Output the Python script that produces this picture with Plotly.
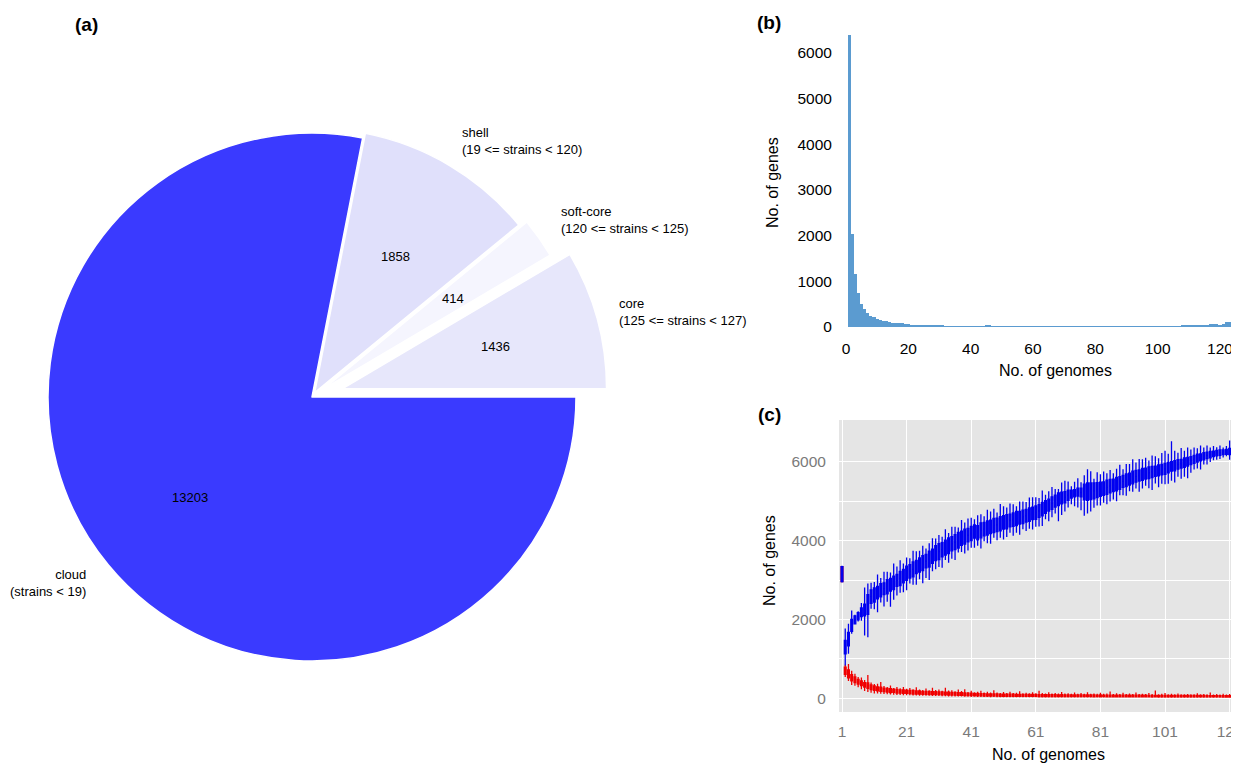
import math
import plotly.graph_objects as go

# The page body adds an 8 px margin, so the figure is sized to fill the
# remaining window and reference pixel positions are shifted by 8 px.
OFF = 8
W, H = 1239 - OFF, 763 - OFF


def px(x):
    return (x - OFF) / W


def py(y):
    return 1 - (y - OFF) / H


# ---------------- (a) pie data ----------------
pie_labels = ["cloud", "shell", "soft-core", "core"]
pie_values = [13203, 1858, 414, 1436]
pie_ranges = ["(strains &lt; 19)", "(19 &lt;= strains &lt; 120)",
              "(120 &lt;= strains &lt; 125)", "(125 &lt;= strains &lt; 127)"]
pie_colors = ["#3a3aff", "#e0e0fb", "#f5f5fe", "#e7e7fb"]
pie_pull = [0, 0.02, 0.05, 0.12]

# ---------------- (b) histogram data ----------------
hist_counts = [
    6400, 2030, 1160, 730, 510, 380, 300, 245, 225, 175,
    150, 135, 120, 100, 92, 90, 80, 75, 62, 56,
    48, 42, 38, 34, 31, 28, 25, 23, 21, 19,
    18, 17, 16, 15, 15, 14, 13, 13, 12, 12,
    11, 11, 12, 14, 20, 40, 15, 11, 10, 10,
    10, 9, 9, 9, 9, 8, 8, 9, 8, 8,
    8, 8, 7, 7, 8, 7, 7, 7, 7, 7,
    7, 7, 7, 6, 7, 7, 6, 7, 7, 6,
    7, 7, 6, 7, 7, 7, 7, 8, 7, 7,
    8, 8, 8, 9, 9, 9, 10, 10, 10, 11,
    11, 12, 12, 13, 14, 15, 16, 18, 20, 22,
    25, 28, 32, 36, 40, 46, 52, 60, 68, 45,
    55, 110, 105, 104, 106, 1330,
]
hist_genomes = list(range(1, len(hist_counts) + 1))
hist_xticks = [0, 20, 40, 60, 80, 100, 120]
hist_yticks = [0, 1000, 2000, 3000, 4000, 5000, 6000]

# ---------------- (c) box-plot data ----------------
blue_med = [
    3150, 1300, 1500, 1850, 1990, 2080, 2180, 2240, 2380, 2580,
    2620, 2680, 2740, 2780, 2830, 2880, 2930, 2990, 3040, 3100,
    3170, 3220, 3270, 3330, 3380, 3430, 3480, 3530, 3600, 3680,
    3720, 3770, 3820, 3870, 3920, 3960, 4010, 4060, 4100, 4140,
    4180, 4230, 4200, 4260, 4290, 4320, 4350, 4380, 4400, 4430,
    4460, 4480, 4510, 4530, 4560, 4580, 4600, 4630, 4660, 4690,
    4710, 4750, 4800, 4850, 4900, 4950, 5000, 5050, 5080, 5100,
    5150, 5180, 5200, 5230, 5220, 5230, 5240, 5250, 5260, 5280,
    5300, 5320, 5350, 5380, 5400, 5430, 5460, 5500, 5530, 5560,
    5600, 5630, 5650, 5680, 5700, 5720, 5740, 5760, 5780, 5800,
    5820, 5850, 5880, 5900, 5930, 5950, 5980, 6000, 6030, 6060,
    6090, 6110, 6140, 6160, 6180, 6200, 6220, 6230, 6240, 6250,
    6260, 6270, 6280, 6290, 6300, 6310,
]
blue_box = [
    190, 170, 170, 150, 100, 90, 110, 150, 250, 170,
    180, 160, 170, 150, 180, 160, 170, 150, 180, 170,
    180, 170, 190, 170, 180, 190, 170, 200, 180, 190,
    200, 180, 190, 200, 180, 190, 200, 180, 190, 170,
    180, 170, 180, 190, 170, 180, 170, 180, 170, 180,
    170, 180, 160, 170, 180, 160, 170, 160, 170, 160,
    170, 160, 170, 160, 150, 160, 150, 160, 150, 140,
    130, 100, 90, 100, 110, 200, 220, 210, 200, 190,
    180, 170, 180, 170, 160, 170, 160, 150, 160, 150,
    160, 150, 140, 150, 140, 150, 140, 130, 140, 130,
    140, 130, 120, 130, 120, 110, 120, 110, 100, 100,
    100, 90, 90, 80, 80, 70, 70, 70, 60, 60,
    80, 80, 60, 60, 50, 50,
]
blue_ext_hi = [
    20, 300, 220, 230, 30, 40, 130, 420, 280, 180,
    150, 300, 140, 280, 200, 150, 320, 200, 280, 150,
    220, 160, 280, 230, 180, 250, 150, 200, 280, 180,
    220, 150, 280, 120, 250, 200, 120, 280, 170, 250,
    220, 140, 260, 220, 160, 280, 220, 250, 140, 320,
    240, 180, 270, 220, 130, 250, 220, 190, 260, 250,
    220, 170, 300, 150, 200, 250, 160, 100, 240, 280,
    220, 100, 200, 250, 150, 230, 350, 300, 110, 260,
    200, 260, 180, 240, 150, 220, 300, 160, 250, 230,
    300, 200, 280, 230, 260, 160, 280, 250, 170, 290,
    320, 220, 520, 250, 180, 290, 180, 250, 180, 200,
    150, 210, 130, 170, 100, 130, 80, 110, 60, 90,
    200, 220, 90, 60, 50, 50,
]
blue_ext_lo = [
    20, 300, 200, 60, 20, 40, 100, 500, 580, 140,
    180, 340, 140, 300, 200, 400, 260, 230, 180, 240,
    250, 140, 200, 280, 180, 320, 260, 330, 200, 220,
    190, 280, 120, 230, 200, 260, 110, 170, 240, 220,
    180, 240, 150, 270, 140, 210, 260, 130, 220, 180,
    260, 210, 150, 240, 180, 270, 140, 230, 190, 250,
    190, 230, 260, 150, 260, 200, 160, 400, 280, 220,
    180, 160, 240, 290, 340, 400, 330, 300, 230, 200,
    230, 190, 250, 220, 200, 260, 150, 200, 230, 160,
    200, 160, 270, 210, 170, 240, 320, 180, 290, 230,
    250, 280, 240, 300, 190, 270, 240, 310, 210, 160,
    160, 220, 120, 150, 110, 90, 100, 90, 70, 50,
    130, 90, 50, 50, 50, 40,
]

red_med = [
    3150, 700, 620, 520, 470, 420, 380, 340, 320, 280,
    260, 240, 230, 215, 205, 195, 190, 180, 175, 170,
    165, 160, 155, 150, 145, 140, 138, 135, 132, 130,
    128, 125, 122, 120, 118, 115, 112, 110, 105, 100,
    98, 95, 92, 90, 88, 86, 85, 84, 82, 80,
    80, 78, 78, 76, 76, 75, 74, 74, 72, 72,
    72, 70, 70, 70, 68, 68, 68, 66, 66, 66,
    65, 65, 65, 64, 64, 64, 63, 63, 62, 62,
    62, 62, 61, 61, 60, 60, 60, 60, 59, 59,
    59, 58, 58, 58, 58, 57, 57, 57, 56, 56,
    56, 56, 55, 55, 55, 55, 54, 54, 54, 54,
    53, 53, 53, 53, 52, 52, 52, 52, 51, 51,
    51, 51, 50, 50, 50, 50,
]
red_box = [
    190, 90, 100, 80, 70, 60, 60, 55, 70, 60,
    55, 50, 55, 45, 45, 50, 40, 45, 40, 45,
    40, 40, 45, 40, 40, 38, 40, 38, 36, 38,
    36, 38, 35, 36, 34, 35, 34, 33, 34, 32,
    32, 30, 32, 30, 30, 28, 30, 28, 28, 27,
    28, 27, 26, 27, 26, 26, 25, 26, 25, 25,
    25, 25, 24, 25, 24, 24, 24, 23, 24, 23,
    23, 23, 22, 23, 22, 22, 22, 22, 22, 21,
    22, 21, 21, 21, 21, 20, 21, 20, 20, 20,
    20, 20, 20, 20, 20, 19, 20, 19, 19, 19,
    19, 19, 19, 19, 18, 18, 18, 18, 18, 18,
    18, 18, 18, 17, 17, 17, 17, 17, 17, 17,
    17, 17, 16, 16, 16, 16,
]
red_ext_hi = [
    10, 60, 150, 100, 80, 60, 90, 70, 200, 60,
    50, 80, 130, 50, 40, 80, 30, 60, 40, 70,
    40, 60, 30, 90, 40, 30, 70, 30, 100, 40,
    60, 30, 110, 40, 50, 30, 80, 40, 90, 30,
    60, 30, 40, 70, 30, 50, 30, 90, 40, 30,
    50, 30, 60, 30, 40, 80, 30, 40, 30, 60,
    30, 100, 40, 30, 60, 30, 40, 30, 70, 30,
    40, 30, 60, 30, 50, 30, 70, 30, 40, 30,
    60, 30, 40, 90, 30, 50, 30, 60, 30, 40,
    30, 70, 30, 40, 30, 60, 30, 120, 30, 40,
    60, 30, 40, 30, 50, 30, 30, 40, 30, 30,
    60, 30, 40, 30, 80, 30, 40, 30, 50, 30,
    40, 60, 30, 50, 30, 40,
]
red_ext_lo = [
    10, 70, 80, 100, 80, 80, 90, 100, 90, 80,
    80, 70, 60, 60, 60, 50, 60, 50, 50, 45,
    45, 45, 40, 40, 40, 40, 35, 35, 35, 35,
    35, 35, 35, 35, 35, 32, 30, 30, 30, 30,
    30, 28, 28, 27, 27, 26, 26, 25, 25, 25,
    25, 25, 25, 24, 24, 24, 24, 24, 23, 23,
    23, 23, 23, 23, 22, 22, 22, 22, 22, 22,
    22, 22, 22, 22, 22, 22, 21, 21, 21, 21,
    21, 21, 21, 21, 21, 21, 21, 21, 20, 20,
    20, 20, 20, 20, 20, 20, 20, 20, 20, 20,
    20, 20, 20, 20, 20, 20, 20, 20, 20, 20,
    20, 20, 20, 20, 20, 20, 20, 20, 20, 20,
    20, 20, 20, 20, 20, 20,
]
curve_xticks = [1, 21, 41, 61, 81, 101, 121]
curve_yticks = [0, 2000, 4000, 6000]
curve_minor_y = [1000, 3000, 5000]

n = min(len(blue_med), len(blue_box), len(blue_ext_hi), len(blue_ext_lo),
        len(red_med), len(red_box), len(red_ext_hi), len(red_ext_lo))
genomes = list(range(1, n + 1))


def stats(med, box, ext_lo, ext_hi):
    q1 = [med[i] - box[i] for i in range(n)]
    q3 = [med[i] + box[i] for i in range(n)]
    lo = [q1[i] - ext_lo[i] for i in range(n)]
    hi = [q3[i] + ext_hi[i] for i in range(n)]
    return q1, med[:n], q3, lo, hi


FONT = "Liberation Sans, Arial, Helvetica, sans-serif"
fig = go.Figure()

# ---- pie (a)   (centre and radius in reference pixels)
CX, CY, R = 312, 397, 264
half = R * (1 + max(pie_pull))
fig.add_trace(go.Pie(
    labels=pie_labels, values=pie_values, sort=False, direction="clockwise",
    rotation=90, pull=pie_pull, textinfo="none", hoverinfo="label+value",
    marker=dict(colors=pie_colors, line=dict(color="white", width=1.5)),
    domain=dict(x=[px(CX - half), px(CX + half)], y=[py(CY + half), py(CY - half)]),
    showlegend=False,
))

annotations = []
total = sum(pie_values)
cum = 0
for v, p in zip(pie_values, pie_pull):
    a0 = cum / total * 360 + 90
    cum += v
    a1 = cum / total * 360 + 90
    mid = math.radians((a0 + a1) / 2)
    d = (p + 0.6) * R
    annotations.append(dict(
        x=px(CX + d * math.sin(mid)), y=py(CY - d * math.cos(mid)),
        xref="paper", yref="paper", text=str(v), showarrow=False,
        font=dict(family=FONT, size=13, color="black"),
        xanchor="center", yanchor="middle"))

label_pos = [(88, 583, "right"), (460, 141, "left"), (559, 220, "left"), (617, 311.5, "left")]
for lab, rng, (lx, ly, anc) in zip(pie_labels, pie_ranges, label_pos):
    annotations.append(dict(
        x=px(lx), y=py(ly), xref="paper", yref="paper",
        text=f"{lab}<br>{rng}", showarrow=False, align=anc,
        xanchor=anc, yanchor="middle",
        font=dict(family=FONT, size=13, color="black")))

# ---- histogram (b)
fig.add_trace(go.Bar(
    x=hist_genomes, y=hist_counts, width=1, xaxis="x", yaxis="y",
    marker=dict(color="#5b9bd0", line=dict(width=0)), showlegend=False,
))

# ---- box plots (c)
for med, box, elo, ehi, col in [
    (red_med, red_box, red_ext_lo, red_ext_hi, "#f00000"),
    (blue_med, blue_box, blue_ext_lo, blue_ext_hi, "#0000f0"),
]:
    q1, md, q3, lo, hi = stats(med, box, elo, ehi)
    fig.add_trace(go.Box(
        x=genomes, q1=q1, median=md, q3=q3, lowerfence=lo, upperfence=hi,
        xaxis="x2", yaxis="y2", width=0.55, whiskerwidth=0,
        line=dict(color=col, width=1.3), fillcolor=col,
        boxpoints=False, showlegend=False, hoverinfo="skip",
    ))

# panel labels and axis titles
for txt, x, y in [("(a)", 86.5, 24), ("(b)", 769, 22), ("(c)", 769, 415)]:
    annotations.append(dict(x=px(x), y=py(y), xref="paper", yref="paper", text=f"<b>{txt}</b>",
                            showarrow=False, xanchor="center", yanchor="middle",
                            font=dict(family=FONT, size=19, color="black")))
for txt, x, y, ang in [("No. of genes", 772, 182, -90), ("No. of genomes", 1055, 370, 0),
                       ("No. of genes", 769, 561, -90), ("No. of genomes", 1048, 754, 0)]:
    annotations.append(dict(x=px(x), y=py(y), xref="paper", yref="paper", text=txt,
                            showarrow=False, xanchor="center", yanchor="middle", textangle=ang,
                            font=dict(family=FONT, size=16, color="black")))

XR2 = [0.07, 123.9]
YR2 = [-347, 7058]
fig.update_layout(
    width=W, height=H, margin=dict(l=0, r=0, t=0, b=0, autoexpand=False),
    paper_bgcolor="white", plot_bgcolor="white",
    font=dict(family=FONT), bargap=0, boxmode="overlay",
    annotations=annotations,
    xaxis=dict(domain=[px(846), 1], range=[0, 126.1], tickvals=hist_xticks, automargin=False,
               showgrid=False, zeroline=False, showline=False, ticks="outside", ticklen=7,
               tickcolor="rgba(0,0,0,0)", tickfont=dict(family=FONT, size=15.5, color="black"),
               ticklabeloverflow="allow", anchor="y"),
    yaxis=dict(domain=[py(327), py(30.2)], range=[0, 6500], tickvals=hist_yticks, automargin=False,
               showgrid=False, zeroline=False, showline=False, ticks="outside", ticklen=10,
               tickcolor="rgba(0,0,0,0)", tickfont=dict(family=FONT, size=15.5, color="black"),
               anchor="x"),
    xaxis2=dict(domain=[px(839), 1], range=XR2, tickvals=curve_xticks, automargin=False,
                showgrid=True, gridcolor="white", gridwidth=1.4, zeroline=False, showline=False,
                ticks="outside", ticklen=5, tickcolor="rgba(0,0,0,0)",
                tickfont=dict(family=FONT, size=15.5, color="#7a7a7a"),
                ticklabeloverflow="allow", anchor="y2"),
    yaxis2=dict(domain=[py(712), py(420)], range=YR2, tickvals=curve_yticks, automargin=False,
                showgrid=True, gridcolor="white", gridwidth=1.4, zeroline=False, showline=False,
                ticks="outside", ticklen=9, tickcolor="rgba(0,0,0,0)",
                tickfont=dict(family=FONT, size=15.5, color="#7a7a7a"), anchor="x2",
                minor=dict(tickvals=curve_minor_y, showgrid=True, gridcolor="white", gridwidth=0.6)),
    shapes=[dict(type="rect", xref="x2", yref="y2", x0=XR2[0], x1=XR2[1], y0=YR2[0], y1=YR2[1],
                 fillcolor="#e5e5e5", line=dict(width=0), layer="below")],
)

fig.write_html("out.html")
